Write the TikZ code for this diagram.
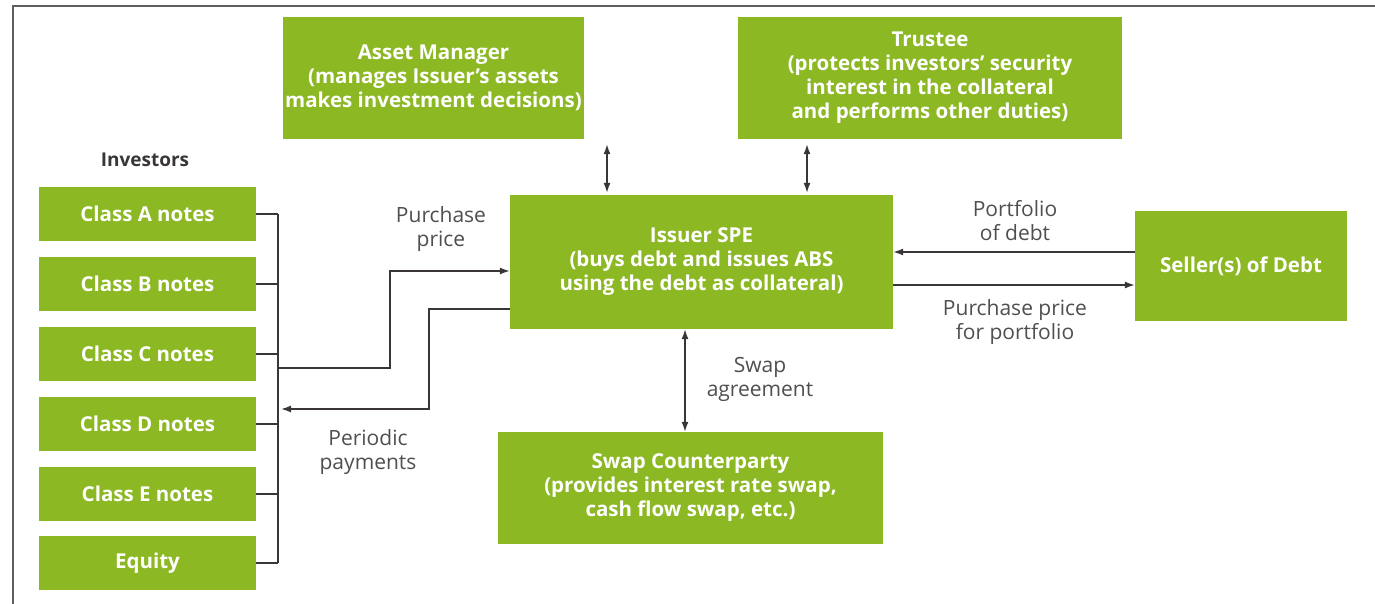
\documentclass[tikz,border=0pt]{standalone}
\usepackage{fontspec}
\setmainfont{Open Sans}
\usetikzlibrary{arrows.meta}
\definecolor{abgreen}{RGB}{140,184,36}
\definecolor{abtext}{RGB}{80,78,78}
\definecolor{abline}{RGB}{58,54,54}
\tikzset{
    box/.style = {fill=abgreen, text=white, align=center, inner sep=0pt,
        font=\fontsize{20.5}{24}\selectfont\bfseries},
    lbl/.style = {text=abtext, align=center, inner sep=0pt,
        font=\fontsize{21}{24}\selectfont},
    link/.style = {draw=abline, line width=1.4pt},
    arr/.style = {link, -{Latex[length=10pt,width=7pt]}},
    twoway/.style = {link, {Latex[length=10pt,width=7pt]}-{Latex[length=10pt,width=7pt]}}
}
\begin{document}
\begin{tikzpicture}[x=1pt, y=-1pt]
    \useasboundingbox (0,0) rectangle (1375,604);
    \draw [draw=abline!80, line width=2pt] (13,604) -- (13,6) -- (1375,6);

    \node [box, minimum width=301, minimum height=122] (am) at (433.5,78)
        {Asset Manager\\(manages Issuer’s assets\\makes investment decisions)};
    \node [box, minimum width=384, minimum height=122] (tr) at (930,78)
        {Trustee\\(protects investors’ security\\interest in the collateral\\and performs other duties)};
    \node [box, minimum width=383, minimum height=134] (iss) at (701.5,262)
        {Issuer SPE\\(buys debt and issues ABS\\using the debt as collateral)};
    \node [box, minimum width=385, minimum height=112] (swp) at (690.5,488)
        {Swap Counterparty\\(provides interest rate swap,\\cash flow swap, etc.)};
    \node [box, minimum width=212, minimum height=110] (sel) at (1241,266)
        {Seller(s) of Debt};

    \node [lbl, text=abline, font=\fontsize{19}{24}\selectfont\bfseries] (inv) at (145,160) {Investors};
    \node [box, minimum width=217, minimum height=54] (cA) at (147.5,214) {Class A notes};
    \node [box, minimum width=217, minimum height=54] (cB) at (147.5,284) {Class B notes};
    \node [box, minimum width=217, minimum height=54] (cC) at (147.5,354) {Class C notes};
    \node [box, minimum width=217, minimum height=54] (cD) at (147.5,424) {Class D notes};
    \node [box, minimum width=217, minimum height=54] (cE) at (147.5,494) {Class E notes};
    \node [box, minimum width=217, minimum height=54] (eq) at (147.5,563) {Equity};

    \coordinate (spTop) at (278,214);
    \coordinate (spBot) at (278,563);
    \coordinate (payOut) at (278,368);
    \coordinate (payIn) at (281,409);

    \draw [link] (spTop) -- (spBot);
    \foreach \cls in {cA,cB,cC,cD,cE,eq}
        \draw [link] (\cls.east) -- (\cls.east -| spTop);

    \draw [arr] (payOut) -- (390,368) |- ([yshift=-9pt]iss.west);
    \draw [arr] ([yshift=-47pt]iss.west) -| (429,409) -- (payIn);
    \draw [arr] ([yshift=14pt]sel.west) -- ([yshift=14pt]sel.west -| iss.east);
    \draw [arr] ([yshift=-23pt]iss.east) -- ([yshift=-23pt]iss.east -| sel.west);

    \draw [twoway, shorten <=5pt, shorten >=2pt] (am.south -| 607,0) -- (iss.north -| 607,0);
    \draw [twoway, shorten <=5pt, shorten >=2pt] (tr.south -| 807,0) -- (iss.north -| 807,0);
    \draw [twoway] (iss.south -| 685,0) -- (swp.north -| 685,0);

    \node [lbl] (lPay) at (441,229) {Purchase\\price};
    \node [lbl] (lPer) at (368,452) {Periodic\\payments};
    \node [lbl] (lPort) at (1015,221) {Portfolio\\of debt};
    \node [lbl] (lPrice) at (1015,322) {Purchase price\\for portfolio};
    \node [lbl] (lSwap) at (760,379) {Swap\\agreement};
\end{tikzpicture}
\end{document}
